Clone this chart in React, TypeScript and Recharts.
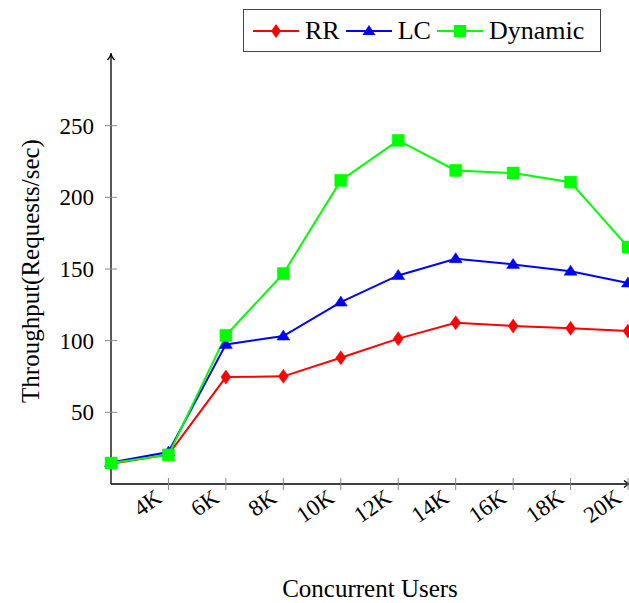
import React from 'react';
import {
  LineChart,
  Line,
  XAxis,
  YAxis,
  ReferenceDot,
} from 'recharts';

const users = [2, 4, 6, 8, 10, 12, 14, 16, 18, 20];
const rr = [14.2, 20.5, 74.6, 75.1, 88.1, 101.4, 112.5, 110.2, 108.6, 106.7];
const lc = [15.0, 22.3, 97.4, 103.2, 126.9, 145.5, 157.2, 153.2, 148.5, 140.2];
const dynamic = [14.6, 20.3, 103.7, 146.8, 211.8, 239.7, 218.8, 216.9, 210.6, 165.3];
const xTicks = [4, 6, 8, 10, 12, 14, 16, 18, 20];
const yTicks = [50, 100, 150, 200, 250];

const data = users.map((u, i) => ({ users: u, rr: rr[i], lc: lc[i], dynamic: dynamic[i] }));

const FONT = '"Liberation Serif", "DejaVu Serif", serif';
const W = 629;
const H = 603;

const diamond = (cx: number, cy: number) => `M${cx},${cy - 7}L${cx + 5},${cy}L${cx},${cy + 7}L${cx - 5},${cy}Z`;
const triangle = (cx: number, cy: number) => `M${cx},${cy - 6}L${cx + 6.5},${cy + 4}L${cx - 6.5},${cy + 4}Z`;
const square = (cx: number, cy: number) => `M${cx - 6},${cy - 6}h12v12h-12Z`;

const makeDot = (fn: (cx: number, cy: number) => string, color: string) => (p: any) => (
  <path key={`d-${p.index}`} d={fn(p.cx, p.cy)} fill={color} stroke={color} strokeWidth={0.5} />
);

const XTick = (p: any) => {
  const { x, y, payload } = p;
  return (
    <g>
      <line x1={x} x2={x} y1={y - 6} y2={y + 6} stroke="#888" strokeWidth={1} />
      <text
        transform={`translate(${x - 5},${y + 17}) rotate(-35)`}
        textAnchor="end"
        fontFamily={FONT}
        fontSize={23}
        fill="#000"
      >
        {`${payload.value}K`}
      </text>
    </g>
  );
};

const YTick = (p: any) => {
  const { x, y, payload } = p;
  return (
    <g>
      <line x1={x - 6} x2={x + 6} y1={y} y2={y} stroke="#888" strokeWidth={1} />
      <text x={x - 17} y={y + 8} textAnchor="end" fontFamily={FONT} fontSize={23} fill="#000">
        {payload.value}
      </text>
    </g>
  );
};

const legendItems = [
  { name: 'RR', color: '#ff0000', shape: diamond },
  { name: 'LC', color: '#0000ff', shape: triangle },
  { name: 'Dynamic', color: '#00ff00', shape: square },
];

const LegendBox = () => (
  <div
    style={{
      position: 'absolute',
      top: 9,
      left: 243,
      display: 'flex',
      alignItems: 'center',
      border: '1.5px solid #444',
      background: '#fff',
      height: 43,
      width: 358,
      boxSizing: 'border-box',
      paddingLeft: 9,
      fontFamily: FONT,
      fontSize: 26,
      color: '#000',
      zIndex: 2,
    }}
  >
    {legendItems.map((it) => (
      <div key={it.name} style={{ display: 'flex', alignItems: 'center', marginRight: 6 }}>
        <svg width={46} height={20} style={{ display: 'block' }}>
          <line x1={0} x2={46} y1={10} y2={10} stroke={it.color} strokeWidth={2} />
          <path d={it.shape(23, 10)} fill={it.color} />
        </svg>
        <span style={{ marginLeft: 6, lineHeight: '26px' }}>{it.name}</span>
      </div>
    ))}
  </div>
);

const arrowUp = (p: any) => (
  <path d={`M${p.cx - 3.5},${p.cy + 6}Q${p.cx},${p.cy + 2} ${p.cx},${p.cy - 1}Q${p.cx},${p.cy + 2} ${p.cx + 3.5},${p.cy + 6}`} fill="none" stroke="#000" strokeWidth={1.3} />
);
const arrowRight = (p: any) => (
  <path d={`M${p.cx - 5},${p.cy - 3.5}Q${p.cx - 1},${p.cy} ${p.cx + 1},${p.cy}Q${p.cx - 1},${p.cy} ${p.cx - 5},${p.cy + 3.5}`} fill="none" stroke="#000" strokeWidth={1.3} />
);

const App: React.FC = () => (
  <div style={{ position: 'absolute', left: 0, top: 0, width: W, height: H, background: '#fff' }}>
    <LegendBox />
    <LineChart width={W} height={H} data={data} margin={{ top: 54, right: 1, left: 0, bottom: 0 }}>
      <XAxis
        type="number"
        dataKey="users"
        domain={[2, 20]}
        ticks={xTicks}
        interval={0}
        height={119}
        tickSize={0}
        tickMargin={0}
        tickLine={false}
        tick={<XTick />}
        axisLine={{ stroke: '#000', strokeWidth: 1.3 }}
        label={() => (
          <text x={370} y={597} textAnchor="middle" fontFamily={FONT} fontSize={25} fill="#000">
            Concurrent Users
          </text>
        )}
      />
      <YAxis
        type="number"
        domain={[0, 300]}
        ticks={yTicks}
        interval={0}
        width={111}
        tickSize={0}
        tickMargin={0}
        tickLine={false}
        tick={<YTick />}
        axisLine={{ stroke: '#000', strokeWidth: 1.3 }}
        label={() => (
          <text
            transform="translate(39,271) rotate(-90)"
            textAnchor="middle"
            fontFamily={FONT}
            fontSize={25}
            fill="#000"
          >
            Throughput(Requests/sec)
          </text>
        )}
      />
      <ReferenceDot x={2} y={300} r={0} ifOverflow="visible" shape={arrowUp} />
      <ReferenceDot x={20} y={0} r={0} ifOverflow="visible" shape={(p: any) => arrowRight({ ...p, cx: p.cx + 1 })} />
      <Line
        type="linear"
        dataKey="rr"
        name="RR"
        stroke="#ff0000"
        strokeWidth={2}
        dot={makeDot(diamond, '#ff0000')}
        activeDot={false}
        isAnimationActive={false}
      />
      <Line
        type="linear"
        dataKey="lc"
        name="LC"
        stroke="#0000ff"
        strokeWidth={2}
        dot={makeDot(triangle, '#0000ff')}
        activeDot={false}
        isAnimationActive={false}
      />
      <Line
        type="linear"
        dataKey="dynamic"
        name="Dynamic"
        stroke="#00ff00"
        strokeWidth={2}
        dot={makeDot(square, '#00ff00')}
        activeDot={false}
        isAnimationActive={false}
      />
    </LineChart>
  </div>
);

export default App;
